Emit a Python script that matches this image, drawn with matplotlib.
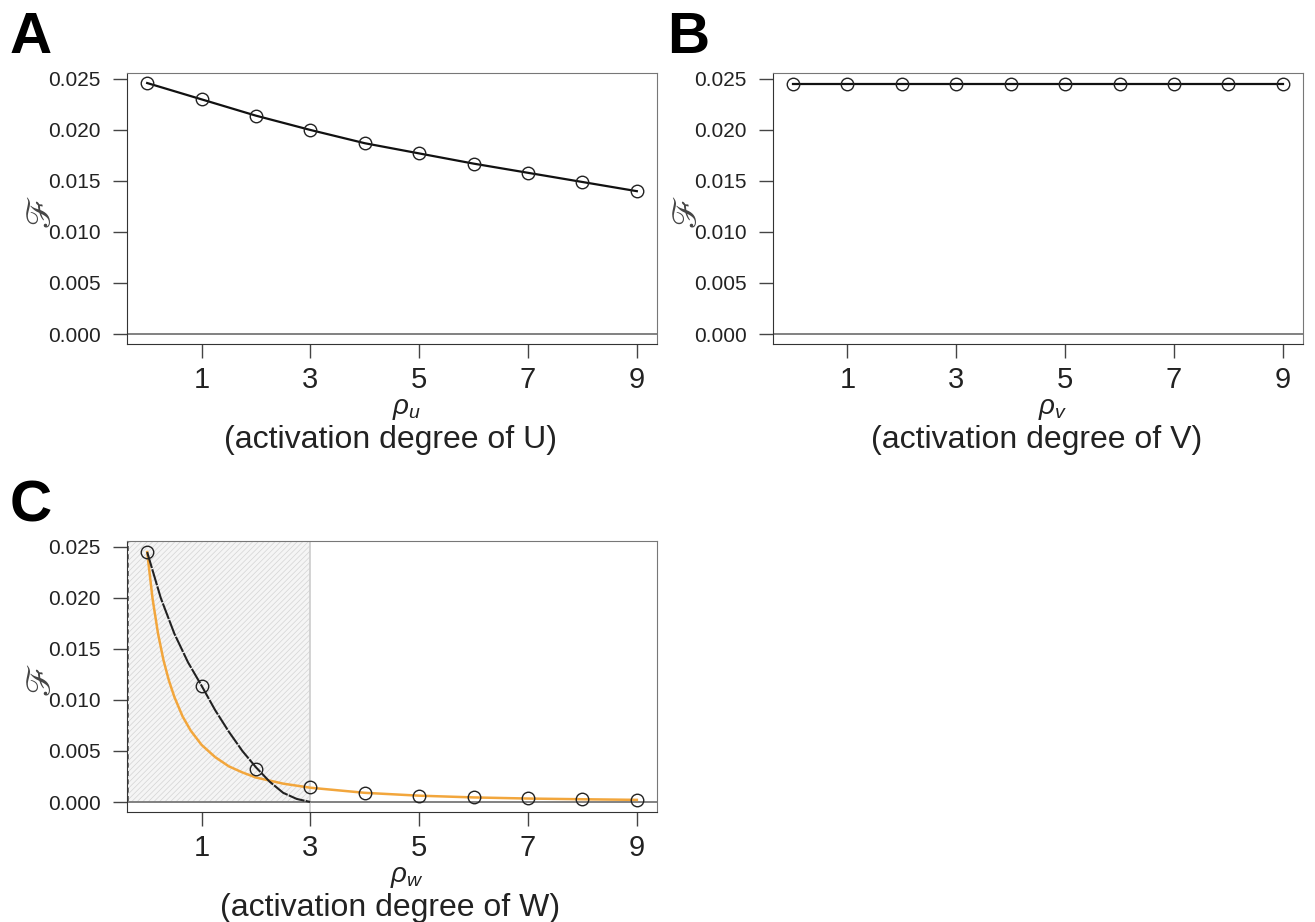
import matplotlib
matplotlib.use('Agg')
import matplotlib.pyplot as plt
from matplotlib.patches import Rectangle

plt.rcParams['font.family'] = ['Liberation Sans', 'DejaVu Sans']
plt.rcParams['mathtext.fontset'] = 'custom'
plt.rcParams['mathtext.it'] = 'Liberation Sans:italic'
plt.rcParams['mathtext.rm'] = 'Liberation Sans'
plt.rcParams['hatch.linewidth'] = 0.5

# data
rho = [0, 1, 2, 3, 4, 5, 6, 7, 8, 9]
F_u = [0.0246, 0.0230, 0.0214, 0.0200, 0.0187, 0.0177, 0.0167, 0.0158, 0.0149, 0.0140]
F_v = [0.0245, 0.0245, 0.0245, 0.0245, 0.0245, 0.0245, 0.0245, 0.0245, 0.0245, 0.0245]
F_w = [0.0245, 0.0114, 0.0032, 0.0015, 0.0009, 0.0006, 0.0005, 0.0004, 0.0003, 0.0002]

# black curve in C (reaches zero at rho=3)
blk_x = [0, 0.25, 0.5, 0.75, 1, 1.25, 1.5, 1.75, 2, 2.25, 2.5, 2.75, 3]
blk_y = [0.0245, 0.0200, 0.0165, 0.0137, 0.0114, 0.0090, 0.0069, 0.0050,
         0.0034, 0.0020, 0.0009, 0.0003, 0.0]

# orange curve in C
org_x = [0, 0.1, 0.2, 0.3, 0.4, 0.5, 0.65, 0.8, 1.0, 1.25, 1.5, 1.75, 2.0,
         2.5, 3, 4, 5, 6, 7, 8, 9]
org_y = [0.0245, 0.0199, 0.0165, 0.0139, 0.0119, 0.0103, 0.0084, 0.0070,
         0.0056, 0.0044, 0.0035, 0.0029, 0.0024, 0.0018, 0.0014, 0.00090,
         0.00062, 0.00045, 0.00034, 0.00027, 0.00021]

xticks = [1, 3, 5, 7, 9]
yticks = [0.000, 0.005, 0.010, 0.015, 0.020, 0.025]
xlim = (-0.37, 9.37)
ylim = (-0.00098, 0.02559)
shade_end = 3

fig = plt.figure(figsize=(13.15, 9.22), dpi=100)
axA = fig.add_axes([0.0966, 0.6269, 0.403, 0.294])
axB = fig.add_axes([0.5878, 0.6269, 0.403, 0.294])
axC = fig.add_axes([0.0966, 0.1193, 0.403, 0.294])


def style(ax, sub, name):
    ax.set_xlim(*xlim)
    ax.set_ylim(*ylim)
    ax.set_xticks(xticks)
    ax.set_yticks(yticks)
    ax.set_yticklabels(['%.3f' % v for v in yticks])
    ax.tick_params(axis='y', direction='out', length=10, width=1, pad=9,
                   labelsize=15, color='#444', labelcolor='#222')
    ax.tick_params(axis='x', direction='out', length=10, width=1, pad=6,
                   labelsize=21, color='#444', labelcolor='#222')
    for s in ['left', 'bottom']:
        ax.spines[s].set_color('#333')
    for s in ['top', 'right']:
        ax.spines[s].set_color('#777')
    ax.axhline(0, color='#777', lw=1.3, zorder=1)
    ax.text(0.528, -0.24, r'$\rho_%s$' % sub, transform=ax.transAxes,
            ha='center', va='center', fontsize=20, color='#222')
    ax.text(0.497, -0.353, '(activation degree of %s)' % name,
            transform=ax.transAxes, ha='center', va='center', fontsize=23,
            color='#222')
    ax.text(-0.162, 0.49, '\u2131', transform=ax.transAxes, rotation=90,
            ha='center', va='center', fontsize=25, color='#444',
            family='STIXGeneral')


style(axA, 'u', 'U')
axA.plot(rho, F_u, color='#111', lw=1.6, zorder=3)
axA.plot(rho, F_u, 'o', mfc='none', mec='#222', ms=9, mew=1, zorder=4)

style(axB, 'v', 'V')
axB.plot(rho, F_v, color='#111', lw=1.6, zorder=3)
axB.plot(rho, F_v, 'o', mfc='none', mec='#222', ms=9, mew=1, zorder=4)

style(axC, 'w', 'W')
axC.add_patch(Rectangle((xlim[0], 0), shade_end - xlim[0], ylim[1],
                        facecolor='#f5f5f5', edgecolor='#d4d4d4', hatch='//////',
                        lw=0, zorder=0))
axC.axvline(shade_end, color='#cccccc', lw=1.2, zorder=1)
axC.axvline(xlim[0] + 0.02, ymin=0.04, color='#555', lw=1.2, ls=(0, (3, 2)), zorder=2)
axC.plot(org_x, org_y, color='#f2a63c', lw=1.8, zorder=3)
axC.plot(blk_x, blk_y, color='#222', lw=1.5, ls=(0, (8, 0.6)), zorder=3)
axC.plot(rho, F_w, 'o', mfc='none', mec='#222', ms=9, mew=1, zorder=4)

fig.text(0.0076, 0.988, 'A', fontsize=42, fontweight='bold', va='top', ha='left')
fig.text(0.5075, 0.988, 'B', fontsize=42, fontweight='bold', va='top', ha='left')
fig.text(0.0076, 0.480, 'C', fontsize=42, fontweight='bold', va='top', ha='left')

fig.savefig('out.png', dpi=100)
